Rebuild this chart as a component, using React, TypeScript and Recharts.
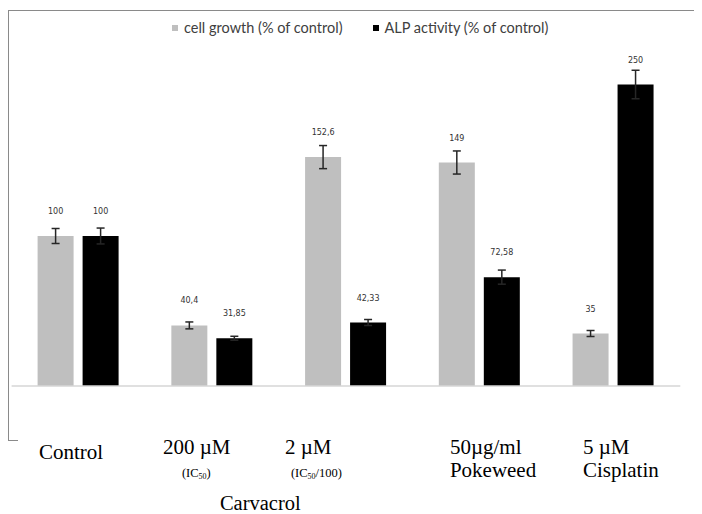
import { BarChart, Bar, XAxis, YAxis, ErrorBar, LabelList, Legend } from "recharts"

const groups = ["Control", "200 µM", "2 µM", "50µg/ml", "5 µM"]
const subLabels = ["", "(IC|50|)", "(IC|50|/100)", "Pokeweed", "Cisplatin"]
const cellGrowth = [100, 40.4, 152.6, 149, 35]
const cellGrowthErr = [5, 2.3, 7.7, 7.7, 2]
const cellGrowthText = ["100", "40,4", "152,6", "149", "35"]
const alpActivity = [100, 31.85, 42.33, 72.58, 201]
const alpActivityErr = [5.3, 1.3, 2, 4.7, 9.5]
const alpActivityText = ["100", "31,85", "42,33", "72,58", "250"]

const data = groups.map((g, i) => ({
  name: g,
  growth: cellGrowth[i],
  growthErr: cellGrowthErr[i],
  growthText: cellGrowthText[i],
  alp: alpActivity[i],
  alpErr: alpActivityErr[i],
  alpText: alpActivityText[i],
}))

// hand placed offsets, the labels in the source are not centred on the groups
const line1Dx = [-39.5, -49.3, -61, -29.8, -30.5]
const line2Dx = [0, -30.3, -55, -29.8, -30.5]
const serif = "'Liberation Serif', 'Times New Roman', serif"

function GroupTick({ x, y, payload, index }: any) {
  const sub = subLabels[index]
  const small = sub.startsWith("(")
  const parts = sub.split("|")
  return (
    <g fontFamily={serif} fill="#000">
      <text x={x + line1Dx[index]} y={y + (index === 0 ? 73 : 68)} fontSize={21}>
        {payload.value}
      </text>
      {sub && !small && (
        <text x={x + line2Dx[index]} y={y + 91} fontSize={21}>
          {sub}
        </text>
      )}
      {small && (
        <text x={x + line2Dx[index]} y={y + 91} fontSize={12.5}>
          {parts[0]}
          <tspan fontSize={8} dy={2}>{parts[1]}</tspan>
          <tspan dy={-2}>{parts[2]}</tspan>
        </text>
      )}
      {index === 1 && (
        <text x={x + 7.7} y={y + 124} fontSize={20.5}>
          Carvacrol
        </text>
      )}
    </g>
  )
}

function ChartLegend() {
  return (
    <div style={{ display: "flex", alignItems: "center", fontFamily: "Lato, sans-serif", fontSize: 14.5, color: "#404040", whiteSpace: "nowrap" }}>
      <span style={{ width: 6, height: 6, background: "#bfbfbf", marginRight: 6 }} />
      <span>cell growth (% of control)</span>
      <span style={{ width: 6, height: 6, background: "#000", marginLeft: 30, marginRight: 6 }} />
      <span>ALP activity (% of control)</span>
    </div>
  )
}

export default function App() {
  return (
    <div style={{ position: "relative", width: 694, height: 506 }}>
      <div style={{ position: "absolute", left: 0, top: 2, width: 694, height: 1, background: "#8a8a8a" }} />
      <div style={{ position: "absolute", left: 0, top: 2, width: 1, height: 430, background: "#8a8a8a" }} />
      <div style={{ position: "absolute", left: 0, top: 432, width: 10, height: 1, background: "#8a8a8a" }} />
      <div style={{ position: "absolute", left: 686, top: 432, width: 8, height: 1, background: "#8a8a8a" }} />
      <BarChart
        width={694}
        height={506}
        data={data}
        margin={{ top: 3, right: 21.7, left: 3.6, bottom: 0 }}
        barSize={36}
        barGap={9}
      >
        <YAxis hide domain={[0, 250]} />
        <XAxis
          dataKey="name"
          height={128}
          tickSize={0}
          tickMargin={0}
          tickLine={false}
          axisLine={{ stroke: "#d6d6d6", strokeWidth: 1.5 }}
          tick={<GroupTick />}
          interval={0}
        />
        <Legend
          verticalAlign="middle"
          align="center"
          content={<ChartLegend />}
          wrapperStyle={{ top: 11, left: 164, width: "auto" }}
        />
        <Bar dataKey="growth" name="cell growth (% of control)" fill="#bfbfbf" isAnimationActive={false}>
          <ErrorBar dataKey="growthErr" width={4} stroke="#262626" strokeWidth={1.5} />
          <LabelList dataKey="growthText" position="top" offset={22} fontSize={8} fontFamily="'DejaVu Sans', sans-serif" fill="#333" />
        </Bar>
        <Bar dataKey="alp" name="ALP activity (% of control)" fill="#000" isAnimationActive={false}>
          <ErrorBar dataKey="alpErr" width={4} stroke="#262626" strokeWidth={1.5} />
          <LabelList dataKey="alpText" position="top" offset={22} fontSize={8} fontFamily="'DejaVu Sans', sans-serif" fill="#333" />
        </Bar>
      </BarChart>
    </div>
  )
}
